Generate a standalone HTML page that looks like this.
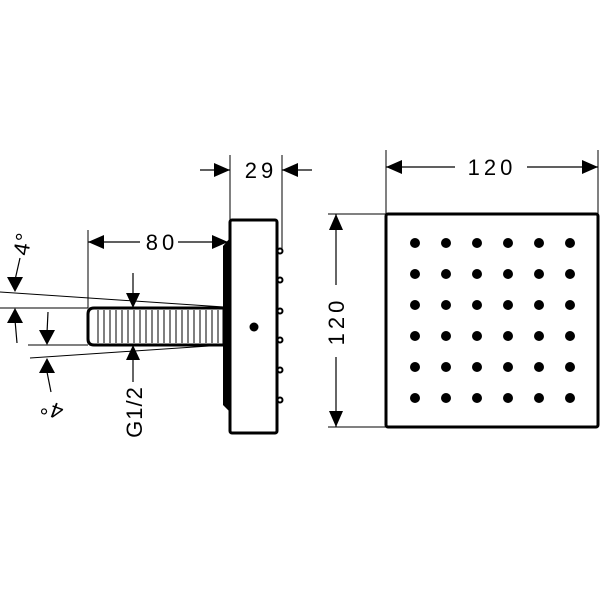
<!DOCTYPE html>
<html><head><style>body{margin:0;background:#fff}svg{display:block}</style></head><body>
<svg width="600" height="600" viewBox="0 0 600 600" xmlns="http://www.w3.org/2000/svg" font-family="Liberation Sans, sans-serif">
<rect width="600" height="600" fill="#fff"/>
<g stroke="#000" fill="none">
<rect x="386" y="214" width="212" height="213" rx="2" stroke-width="3"/>
<line x1="386" y1="150" x2="386" y2="214" stroke-width="1"/>
<line x1="598" y1="150" x2="598" y2="214" stroke-width="1"/>
<line x1="386" y1="167" x2="455" y2="167" stroke-width="1.2"/>
<line x1="527" y1="167" x2="598" y2="167" stroke-width="1.2"/>
<line x1="328" y1="214" x2="386" y2="214" stroke-width="1"/>
<line x1="328" y1="427" x2="386" y2="427" stroke-width="1"/>
<line x1="336" y1="214" x2="336" y2="285" stroke-width="1.2"/>
<line x1="336" y1="357" x2="336" y2="427" stroke-width="1.2"/>
<rect x="230" y="220" width="47" height="213" rx="2" stroke-width="3"/>
<line x1="230" y1="155" x2="230" y2="220" stroke-width="1"/>
<line x1="282" y1="155" x2="282" y2="250" stroke-width="1"/>
<line x1="200" y1="170" x2="230" y2="170" stroke-width="1.2"/>
<line x1="282" y1="170" x2="312" y2="170" stroke-width="1.2"/>
<line x1="88" y1="230" x2="88" y2="308" stroke-width="1"/>
<line x1="88" y1="242" x2="140" y2="242" stroke-width="1.2"/>
<line x1="178" y1="242" x2="228" y2="242" stroke-width="1.2"/>
<line x1="0" y1="292" x2="224" y2="307" stroke-width="1"/>
<line x1="30" y1="358" x2="224" y2="345" stroke-width="1"/>
<line x1="0" y1="308" x2="88" y2="308" stroke-width="1"/>
<line x1="28" y1="345" x2="88" y2="345" stroke-width="1"/>
<line x1="20" y1="258" x2="15" y2="280" stroke-width="1.2"/>
<line x1="15" y1="320" x2="17" y2="343" stroke-width="1.2"/>
<line x1="48" y1="312" x2="47" y2="333" stroke-width="1.2"/>
<line x1="47" y1="372" x2="51" y2="392" stroke-width="1.2"/>
<line x1="133" y1="273" x2="133" y2="300" stroke-width="1.2"/>
<line x1="133" y1="352" x2="133" y2="382" stroke-width="1.2"/>
<path d="M94 308 H224 V345 H94 Q88 345 88 339 V314 Q88 308 94 308 Z" stroke-width="3"/>
<path d="M98 310V343M104 310V343M110 310V343M116 310V343M122 310V343M128 310V343M134 310V343M140 310V343M146 310V343M152 310V343M158 310V343M164 310V343M170 310V343M176 310V343M182 310V343M188 310V343M194 310V343M200 310V343M206 310V343M212 310V343M218 310V343" stroke-width="1"/>
<g stroke-width="2"><circle cx="280" cy="251" r="2.5"/><circle cx="280" cy="280" r="2.5"/><circle cx="280" cy="311" r="2.5"/><circle cx="280" cy="340" r="2.5"/><circle cx="280" cy="370" r="2.5"/><circle cx="280" cy="400" r="2.5"/></g>
</g>
<path d="M223 246 L230 238 V412 L223 405 Z" fill="#000"/>
<circle cx="254" cy="327" r="4.5" fill="#000"/>
<g fill="#000">
<path d="M386 167 l16 -7 v14z"/><path d="M598 167 l-16 -7 v14z"/>
<path d="M336 214 l-7 16 h14z"/><path d="M336 427 l-7 -16 h14z"/>
<path d="M230 170 l-16 -7 v14z"/><path d="M282 170 l16 -7 v14z"/>
<path d="M88 242 l16 -7 v14z"/><path d="M228 242 l-16 -7 v14z"/>
<path d="M15 292 l-8 -15 h16z"/><path d="M15 308 l-8 15 h16z"/>
<path d="M47 345 l-8 -15 h16z"/><path d="M47 358 l-8 15 h16z"/>
<path d="M133 308 l-7 -15 h14z"/><path d="M133 345 l-7 15 h14z"/>
</g>
<g fill="#000">
<g id="row"><circle cx="415" cy="243" r="5"/><circle cx="446" cy="243" r="5"/><circle cx="477" cy="243" r="5"/><circle cx="508" cy="243" r="5"/><circle cx="539" cy="243" r="5"/><circle cx="570" cy="243" r="5"/></g>
<use href="#row" y="31"/><use href="#row" y="62"/><use href="#row" y="93"/><use href="#row" y="124"/><use href="#row" y="155"/>
</g>
<g font-size="22" fill="#000" letter-spacing="4">
<text x="492" y="175" text-anchor="middle">120</text>
<text x="261" y="178" text-anchor="middle">29</text>
<text x="162" y="250" text-anchor="middle">80</text>
<text transform="translate(344,321) rotate(-90)" text-anchor="middle">120</text>
<text transform="translate(142,412) rotate(-90)" text-anchor="middle" letter-spacing="1">G1/2</text>
<text transform="translate(30,245) rotate(-80)" text-anchor="middle" letter-spacing="1">4°</text>
<text transform="translate(54,402) rotate(200)" text-anchor="middle" letter-spacing="1">4°</text>
</g>
</svg>
</body></html>
